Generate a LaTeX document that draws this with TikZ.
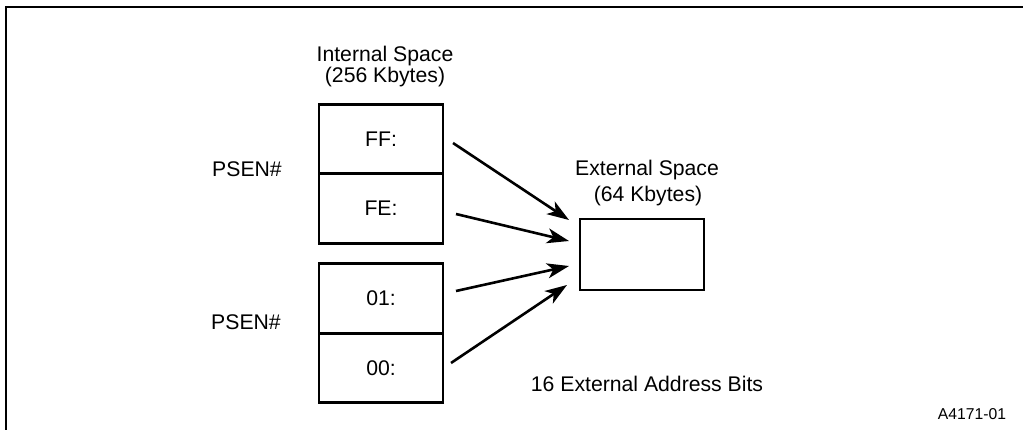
\documentclass[tikz,border=0pt]{standalone}
\usepackage{fontspec}
\setmainfont{Liberation Sans}
\usetikzlibrary{arrows.meta}
\begin{document}
\begin{tikzpicture}[x=1pt,y=-1pt,
  lbl/.style={inner sep=0pt,anchor=base,font=\fontsize{21.2}{25}\selectfont},
  cell/.style={draw,line width=2.6pt,minimum width=124pt,minimum height=69.5pt,inner sep=0pt,font=\fontsize{21.2}{25}\selectfont},
  conn/.style={line width=2.6pt,-{Stealth[length=22pt,width=15pt,inset=6pt]}},
  frame/.style={line width=2pt}]
\useasboundingbox (0,0) rectangle (1023,430);
\draw[frame] (1023,7) -- (6,7) -- (6,430);
% labels
\node[lbl] (int1) at (385,62) {Internal Space};
\node[lbl] (int2) at (385,83) {(256 Kbytes)};
\node[lbl] (ext1) at (647,176) {External Space};
\node[lbl] (ext2) at (648,202) {(64 Kbytes)};
\node[lbl] (psen1) at (247,177) {PSEN\#};
\node[lbl] (psen2) at (246,330) {PSEN\#};
\node[lbl] (bits) at (647,391) {16 External Address Bits};
\node[inner sep=0pt,anchor=base,font=\fontsize{15.7}{18}\selectfont] (id) at (972,419) {A4171-01};
% cells
\node[cell] (ff) at (381,139) {FF:};
\node[cell] (fe) at (381,208.5) {FE:};
\node[cell] (c01) at (381,298.5) {01:};
\node[cell] (c00) at (381,368) {00:};
\node[draw,line width=2.6pt,minimum width=124pt,minimum height=71pt,inner sep=0pt] (ext) at (642,254.5) {};
% connector ends
\coordinate (s1) at (453,143);
\coordinate (e1) at (569,220);
\coordinate (s2) at (456,214);
\coordinate (e2) at (569,241);
\coordinate (s3) at (456,291);
\coordinate (e3) at (569,266);
\coordinate (s4) at (451,363);
\coordinate (e4) at (567,285);
\draw[conn] (s1) -- (e1);
\draw[conn] (s2) -- (e2);
\draw[conn] (s3) -- (e3);
\draw[conn] (s4) -- (e4);
\end{tikzpicture}
\end{document}
